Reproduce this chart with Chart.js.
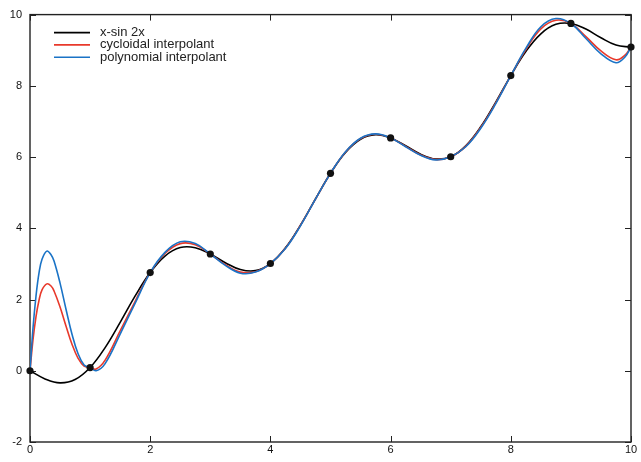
<!DOCTYPE html>
<html>
<head>
<meta charset="utf-8">
<script src="https://cdn.jsdelivr.net/npm/chart.js@4/dist/chart.umd.min.js"></script>
<style>
  html, body { margin: 0; padding: 0; background: #fff; }
  #wrap { width: 641px; height: 462px; }
</style>
</head>
<body>
<div id="wrap"><canvas id="myChart" width="641" height="462"></canvas></div>
<script>
// values
const seriesNames = ["x-sin 2x", "cycloidal interpolant", "polynomial interpolant"];
const xTicks = [0, 2, 4, 6, 8, 10];
const yTicks = [-2, 0, 2, 4, 6, 8, 10];

// interpolation nodes (black dots)
const nodeX = [0, 1, 2, 3, 4, 5, 6, 7, 8, 9, 10];
const nodeY = [0, 0.091, 2.757, 3.279, 3.011, 5.544, 6.537, 6.009, 8.288, 9.751, 9.087];

// x - sin 2x
const exactX = [0, 0.25, 0.5, 0.75, 1, 1.25, 1.5, 1.75, 2, 2.25, 2.5, 2.75, 3, 3.25, 3.5, 3.75, 4,
  4.25, 4.5, 4.75, 5, 5.25, 5.5, 5.75, 6, 6.25, 6.5, 6.75, 7, 7.25, 7.5, 7.75, 8,
  8.25, 8.5, 8.75, 9, 9.25, 9.5, 9.75, 10];
const exactY = [0, -0.229, -0.341, -0.247, 0.091, 0.651, 1.359, 2.101, 2.757, 3.227, 3.459, 3.455, 3.279, 3.035, 2.843, 2.812, 3.011,
  3.451, 4.088, 4.825, 5.544, 6.130, 6.500, 6.626, 6.537, 6.316, 6.080, 5.946, 6.009, 6.315, 6.850, 7.544, 8.288,
  8.962, 9.461, 9.726, 9.751, 9.593, 9.350, 9.145, 9.087];

// cycloidal interpolant
const cycX = [0, 0.05, 0.1, 0.15, 0.2, 0.28, 0.35, 0.4, 0.5, 0.6, 0.7, 0.8, 0.9, 1, 1.1, 1.25, 1.5, 1.75, 2,
  2.25, 2.5, 2.75, 3, 3.25, 3.5, 3.75, 4, 4.25, 4.5, 4.75, 5, 5.25, 5.5, 5.75, 6, 6.25, 6.5, 6.75, 7,
  7.25, 7.5, 7.75, 8, 8.25, 8.5, 8.75, 9, 9.25, 9.5, 9.75, 9.9, 10];
const cycY = [0, 0.87, 1.52, 1.98, 2.27, 2.44, 2.38, 2.24, 1.79, 1.25, 0.74, 0.35, 0.13, 0.091, 0.05, 0.3, 1.12, 1.95, 2.757,
  3.30, 3.57, 3.54, 3.279, 2.98, 2.77, 2.78, 3.011, 3.44, 4.08, 4.82, 5.544, 6.14, 6.52, 6.64, 6.537, 6.30, 6.06, 5.93, 6.009,
  6.30, 6.83, 7.52, 8.288, 9.02, 9.60, 9.84, 9.751, 9.38, 8.98, 8.73, 8.86, 9.087];

// polynomial interpolant
const polyX = [0, 0.05, 0.1, 0.15, 0.2, 0.28, 0.35, 0.4, 0.5, 0.6, 0.7, 0.8, 0.9, 1, 1.1, 1.25, 1.5, 1.75, 2,
  2.25, 2.5, 2.75, 3, 3.25, 3.5, 3.75, 4, 4.25, 4.5, 4.75, 5, 5.25, 5.5, 5.75, 6, 6.25, 6.5, 6.75, 7,
  7.25, 7.5, 7.75, 8, 8.25, 8.5, 8.75, 9, 9.25, 9.5, 9.75, 9.9, 10];
const polyY = [0, 1.2, 2.10, 2.75, 3.13, 3.36, 3.26, 3.08, 2.46, 1.72, 1.02, 0.48, 0.16, 0.091, 0.0, 0.2, 1.03, 1.9, 2.757,
  3.33, 3.62, 3.57, 3.279, 2.96, 2.74, 2.77, 3.011, 3.43, 4.07, 4.82, 5.544, 6.15, 6.53, 6.65, 6.537, 6.29, 6.05, 5.92, 6.009,
  6.29, 6.81, 7.50, 8.288, 9.05, 9.66, 9.89, 9.751, 9.33, 8.90, 8.65, 8.81, 9.087];

const lineColors = ["#000000", "#e8392b", "#1a73c6"];

function pairs(xs, ys) {
  return xs.map((x, i) => ({ x: x, y: ys[i] }));
}

// box frame with inward tick marks on all four sides
const frameTicks = {
  id: 'frameTicks',
  beforeDatasetsDraw(chart) {
    const ctx = chart.ctx;
    const a = chart.chartArea;
    const xs = chart.scales.x;
    const ys = chart.scales.y;
    const len = 6;
    ctx.save();
    ctx.strokeStyle = '#222';
    ctx.lineWidth = 1.4;
    ctx.strokeRect(a.left, a.top, a.right - a.left, a.bottom - a.top);
    ctx.lineWidth = 1;
    ctx.beginPath();
    xTicks.forEach((v) => {
      const px = Math.round(xs.getPixelForValue(v)) + 0.5;
      ctx.moveTo(px, a.bottom); ctx.lineTo(px, a.bottom - len);
      ctx.moveTo(px, a.top); ctx.lineTo(px, a.top + len);
    });
    yTicks.forEach((v) => {
      const py = Math.round(ys.getPixelForValue(v)) + 0.5;
      ctx.moveTo(a.left, py); ctx.lineTo(a.left + len, py);
      ctx.moveTo(a.right, py); ctx.lineTo(a.right - len, py);
    });
    ctx.stroke();
    ctx.restore();
  }
};

// legend in the upper left corner of the frame
const cornerLegend = {
  id: 'cornerLegend',
  afterDraw(chart) {
    const ctx = chart.ctx;
    const a = chart.chartArea;
    ctx.save();
    ctx.font = "13px 'Liberation Sans', Arial, sans-serif";
    ctx.textBaseline = 'middle';
    ctx.fillStyle = '#222';
    seriesNames.forEach((name, i) => {
      const y = a.top + 18 + i * 12.3;
      ctx.strokeStyle = lineColors[i];
      ctx.lineWidth = 1.6;
      ctx.beginPath();
      ctx.moveTo(a.left + 24, y);
      ctx.lineTo(a.left + 60, y);
      ctx.stroke();
      ctx.fillText(name, a.left + 70, y);
    });
    ctx.restore();
  }
};

let ctx = document.getElementById("myChart");

const config = {
  type: 'scatter',
  data: {
    datasets: [
      {
        label: 'nodes',
        data: pairs(nodeX, nodeY),
        showLine: false,
        pointRadius: 3.6,
        pointBackgroundColor: '#111',
        pointBorderColor: '#111',
        pointBorderWidth: 0,
        clip: false,
        order: 0
      },
      {
        label: seriesNames[0],
        data: pairs(exactX, exactY),
        showLine: true,
        borderColor: lineColors[0],
        backgroundColor: lineColors[0],
        borderWidth: 1.6,
        pointRadius: 0,
        tension: 0.4,
        order: 3
      },
      {
        label: seriesNames[1],
        data: pairs(cycX, cycY),
        showLine: true,
        borderColor: lineColors[1],
        backgroundColor: lineColors[1],
        borderWidth: 1.6,
        pointRadius: 0,
        tension: 0.4,
        order: 2
      },
      {
        label: seriesNames[2],
        data: pairs(polyX, polyY),
        showLine: true,
        borderColor: lineColors[2],
        backgroundColor: lineColors[2],
        borderWidth: 1.6,
        pointRadius: 0,
        tension: 0.4,
        order: 1
      }
    ]
  },
  options: {
    responsive: false,
    animation: false,
    devicePixelRatio: 1,
    layout: { padding: { top: 14, right: 10, left: 0, bottom: 0 } },
    plugins: {
      tooltip: { enabled: false },
      legend: { display: false }
    },
    scales: {
      x: {
        type: 'linear',
        min: 0,
        max: 10,
        afterFit: (scale) => { scale.height = 20; },
        afterBuildTicks: (scale) => { scale.ticks = xTicks.map((v) => ({ value: v })); },
        grid: { display: false, drawTicks: false },
        border: { display: false },
        ticks: {
          padding: 1,
          color: '#111',
          maxRotation: 0,
          font: { family: "'Liberation Sans', Arial, sans-serif", size: 11 }
        }
      },
      y: {
        type: 'linear',
        min: -2,
        max: 10,
        afterFit: (scale) => { scale.width = 30; },
        afterBuildTicks: (scale) => { scale.ticks = yTicks.map((v) => ({ value: v })); },
        grid: { display: false, drawTicks: false },
        border: { display: false },
        ticks: {
          padding: 8,
          color: '#111',
          font: { family: "'Liberation Sans', Arial, sans-serif", size: 11 }
        }
      }
    }
  },
  plugins: [frameTicks, cornerLegend]
};

let myChart = new Chart(ctx, config);
</script>
</body>
</html>
